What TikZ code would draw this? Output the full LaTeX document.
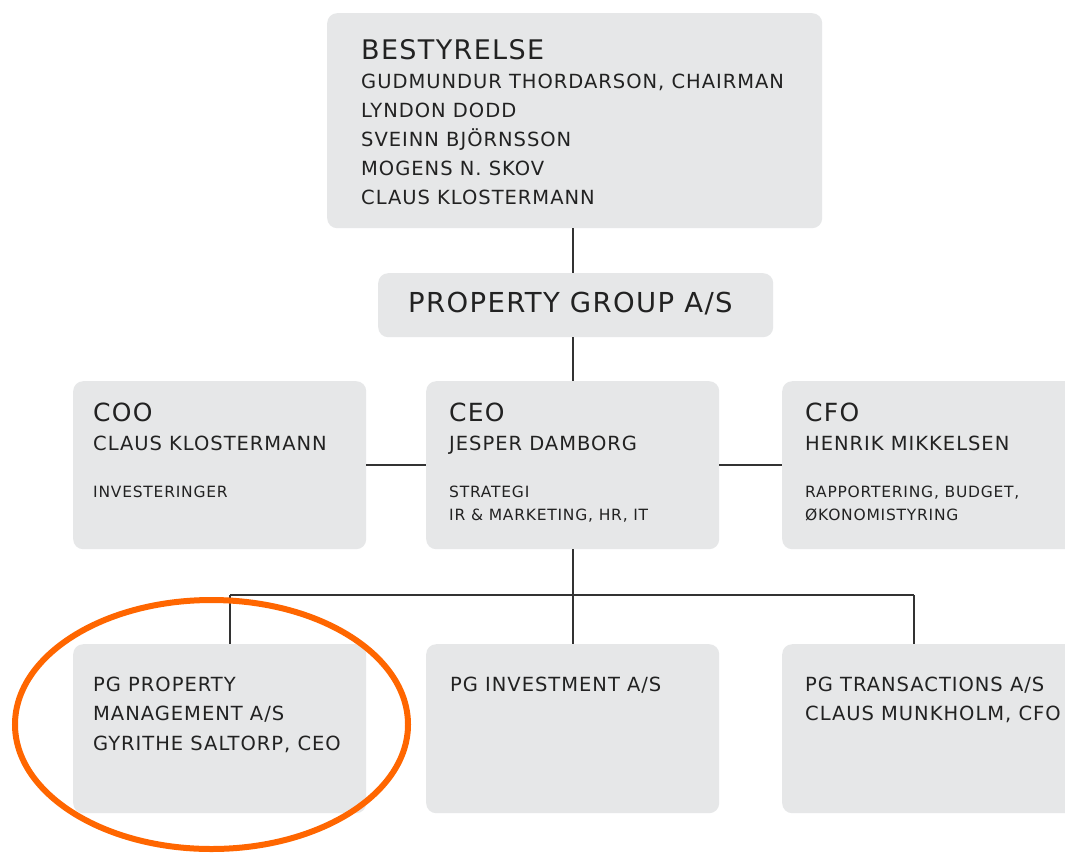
\documentclass[tikz,border=0pt]{standalone}
\usepackage{fontspec}
\setmainfont[LetterSpace=5]{DejaVu Sans}
\usetikzlibrary{shapes.geometric}
\definecolor{boxgray}{HTML}{E6E7E8}
\definecolor{textgray}{HTML}{222222}
\definecolor{linegray}{HTML}{333333}
\definecolor{ringorange}{HTML}{FF6600}
\begin{document}
\begin{tikzpicture}[x=1pt,y=-1pt,
  box/.style={fill=boxgray, draw=none, rounded corners=10pt, anchor=north west, inner sep=0pt},
  conn/.style={draw=linegray, line width=1.8pt},
  txt/.style={anchor=base west, inner sep=0pt, text=textgray},
  bigtxt/.style={txt, font=\fontsize{27}{32}\selectfont},
  titletxt/.style={txt, font=\fontsize{25}{30}\selectfont},
  nametxt/.style={txt, font=\fontsize{19.5}{29}\selectfont},
  smalltxt/.style={txt, font=\fontsize{15.5}{23}\selectfont}]
\useasboundingbox (0,0) rectangle (1065,852);
\fill[white] (0,0) rectangle (1065,852);
\clip (0,0) rectangle (1065,852);

% boxes
\node[box, minimum width=495pt, minimum height=215pt] (best) at (327,13) {};
\node[box, minimum width=395pt, minimum height=64pt] (pg) at (378,273) {};
\node[box, minimum width=293pt, minimum height=168pt] (coo) at (73,381) {};
\node[box, minimum width=293pt, minimum height=168pt] (ceo) at (426,381) {};
\node[box, minimum width=293pt, minimum height=168pt] (cfo) at (782,381) {};
\node[box, minimum width=293pt, minimum height=169pt] (prop) at (73,644) {};
\node[box, minimum width=293pt, minimum height=169pt] (inv) at (426,644) {};
\node[box, minimum width=293pt, minimum height=169pt] (trans) at (782,644) {};

% connectors
\draw[conn] (ceo.north |- best.south) -- (ceo.north |- pg.north);
\draw[conn] (ceo.north |- pg.south) -- (ceo.north);
\draw[conn] (coo.east) -- (ceo.west);
\draw[conn] (ceo.east) -- (cfo.west);
\draw[conn] (ceo.south) -- (inv.north);
\coordinate (barL) at (230,595);
\coordinate (barR) at (914,595);
\draw[conn] (barL) -- (barR);
\draw[conn] (barL) -- (barL |- prop.north);
\draw[conn] (barR) -- (barR |- trans.north);

% texts: bestyrelse
\node[bigtxt] (b0) at (361,59) {BESTYRELSE};
\node[nametxt] (b1) at (361,88) {GUDMUNDUR THORDARSON, CHAIRMAN};
\node[nametxt] (b2) at (361,117) {LYNDON DODD};
\node[nametxt] (b3) at (361,146) {SVEINN BJÖRNSSON};
\node[nametxt] (b4) at (361,175) {MOGENS N. SKOV};
\node[nametxt] (b5) at (361,204) {CLAUS KLOSTERMANN};

\node[font=\fontsize{27.5}{32}\selectfont, txt] (pgt) at (408,312) {PROPERTY GROUP A/S};

% COO
\node[titletxt] (coo0) at (93,421) {COO};
\node[nametxt] (coo1) at (93,450) {CLAUS KLOSTERMANN};
\node[smalltxt] (coo2) at (93,497) {INVESTERINGER};
% CEO
\node[titletxt] (ceo0) at (449,421) {CEO};
\node[nametxt] (ceo1) at (449,450) {JESPER DAMBORG};
\node[smalltxt] (ceo2) at (449,497) {STRATEGI};
\node[smalltxt] (ceo3) at (449,520) {IR \& MARKETING, HR, IT};
% CFO
\node[titletxt] (cfo0) at (805,421) {CFO};
\node[nametxt] (cfo1) at (805,450) {HENRIK MIKKELSEN};
\node[smalltxt] (cfo2) at (805,497) {RAPPORTERING, BUDGET,};
\node[smalltxt] (cfo3) at (805,520) {ØKONOMISTYRING};

% subsidiaries
\node[nametxt] (p1) at (93,691) {PG PROPERTY};
\node[nametxt] (p2) at (93,720) {MANAGEMENT A/S};
\node[nametxt] (p3) at (93,750) {GYRITHE SALTORP, CEO};
\node[nametxt] (i1) at (450,691) {PG INVESTMENT A/S};
\node[nametxt] (t1) at (805,691) {PG TRANSACTIONS A/S};
\node[nametxt] (t2) at (805,720) {CLAUS MUNKHOLM, CFO};

% orange ring
\node[draw=ringorange, line width=6pt, ellipse, inner sep=0pt, outer sep=0pt,
      minimum width=393pt, minimum height=249pt] (ring) at (211.5,724.5) {};
\end{tikzpicture}
\end{document}
